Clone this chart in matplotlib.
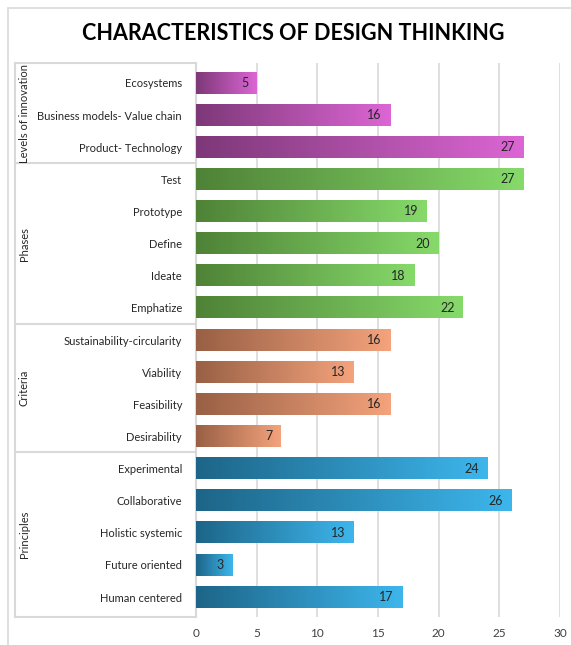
import numpy as np
import matplotlib.pyplot as plt
from matplotlib.colors import LinearSegmentedColormap
from matplotlib.patches import Rectangle
from matplotlib.lines import Line2D

# Data (top to bottom as drawn)
groups = ["Levels of innovation", "Phases", "Criteria", "Principles"]
group_items = [
    ["Ecosystems", "Business models- Value chain", "Product- Technology"],
    ["Test", "Prototype", "Define", "Ideate", "Emphatize"],
    ["Sustainability-circularity", "Viability", "Feasibility", "Desirability"],
    ["Experimental", "Collaborative", "Holistic systemic", "Future oriented", "Human centered"],
]
group_values = [
    [5, 16, 27],
    [27, 19, 20, 18, 22],
    [16, 13, 16, 7],
    [24, 26, 13, 3, 17],
]
group_colors = [
    ("#7d3878", "#dc66d4"),
    ("#4f8237", "#86da6a"),
    ("#996045", "#f4a37c"),
    ("#1d6588", "#3db6ec"),
]

plt.rcParams['font.family'] = ['Lato', 'DejaVu Sans']

labels = [lab for items in group_items for lab in items]
values = [v for vals in group_values for v in vals]
n = len(labels)
pos = np.arange(n)

fig = plt.figure(figsize=(5.71, 6.45), dpi=100)
ax = fig.add_axes([196 / 571, 1 - 617 / 645, 364 / 571, 554 / 645])

bars = ax.barh(pos, values, height=0.66, color="none", edgecolor="none", zorder=3)

grad = np.linspace(0, 1, 256).reshape(1, -1)
i = 0
for g, vals in enumerate(group_values):
    cmap = LinearSegmentedColormap.from_list("g%d" % g, group_colors[g])
    for v in vals:
        b = bars[i]
        x0, y0 = b.get_x(), b.get_y()
        w, h = b.get_width(), b.get_height()
        ax.imshow(grad, cmap=cmap, aspect="auto", extent=[x0, x0 + w, y0 + h, y0],
                  zorder=3, interpolation="bilinear")
        ax.text(x0 + w - 0.7, y0 + h / 2, str(v), ha="right", va="center",
                fontsize=9, color="#262626", zorder=4)
        i += 1

ax.set_xlim(0, 30)
ax.set_ylim(n - 0.5 + 0.12, -0.5 - 0.12)
ax.set_xticks(range(0, 31, 5))
ax.set_yticks(pos)
ax.set_yticklabels(labels)
ax.tick_params(axis="y", length=0, pad=10, labelsize=8, labelcolor="#262626")
ax.tick_params(axis="x", length=0, pad=8, labelsize=8.5, labelcolor="#404040")
ax.grid(axis="x", color="#d9d9d9", linewidth=1.2, zorder=0)
for s in ["top", "right", "bottom"]:
    ax.spines[s].set_visible(False)
ax.spines["left"].set_color("#d9d9d9")
ax.spines["left"].set_linewidth(1.5)

# group bracket lines and labels
trans = ax.get_yaxis_transform()
x_left = (15 - 196) / 364
bounds = [-0.5 - 0.12]
start = 0
for items in group_items:
    start += len(items)
    bounds.append(start - 0.5 if start < n else n - 0.5 + 0.12)
for yb in bounds:
    ax.add_line(Line2D([x_left, 0], [yb, yb], transform=trans, color="#d9d9d9",
                       linewidth=1.5, clip_on=False))
ax.add_line(Line2D([x_left, x_left], [bounds[0], bounds[-1]], transform=trans,
                   color="#d9d9d9", linewidth=1.5, clip_on=False))
for g, name in enumerate(groups):
    mid = (bounds[g] + bounds[g + 1]) / 2
    ax.text(x_left + 9 / 364, mid, name, transform=trans, rotation=90,
            ha="center", va="center", fontsize=8, color="#262626")

# outer chart frame
fig.patches.append(Rectangle((8 / 571, -0.1), 1.2, 1 - 8 / 645 + 0.1,
                             transform=fig.transFigure, fill=False,
                             edgecolor="#d9d9d9", linewidth=1.2))

fig.text(293 / 571, 1 - 33 / 645, "CHARACTERISTICS OF DESIGN THINKING",
         ha="center", va="center", fontsize=15.5, fontweight="bold", color="black")

fig.savefig("out.png", dpi=100)
